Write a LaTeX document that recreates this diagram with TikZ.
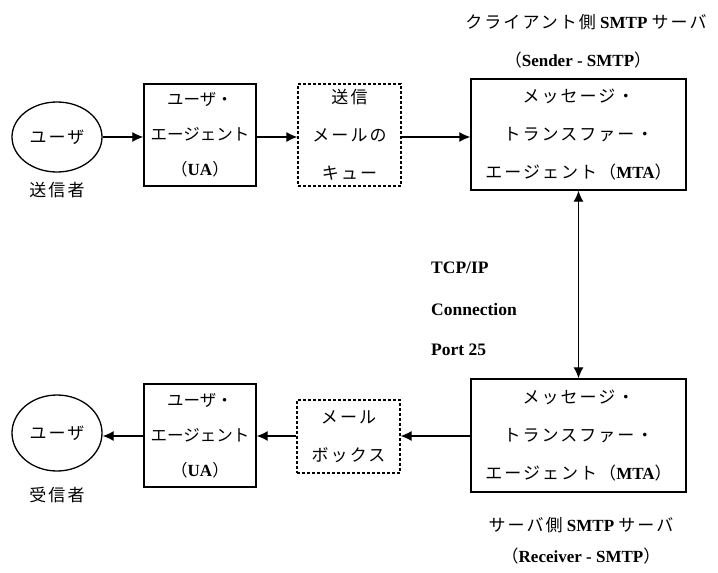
\documentclass[tikz,border=0pt]{standalone}
\usepackage{fontspec}
\setmainfont{Liberation Serif}
\newfontfamily\jp[LetterSpace=12]{Noto Sans CJK JP}
\newfontfamily\jpn{Noto Sans CJK JP}
\usetikzlibrary{arrows.meta,shapes.geometric}
\tikzset{
  jpfont/.style={font=\jp\fontsize{17}{38}\selectfont},
  uafont/.style={font=\jpn\fontsize{16.5}{35}\selectfont},
  user/.style={draw, ellipse, line width=1.3pt, minimum width=90pt, minimum height=70pt, inner sep=0pt, jpfont},
  solidbox/.style={draw, rectangle, line width=1.4pt, align=center, inner sep=0pt, jpfont},
  dashbox/.style={draw, rectangle, line width=1.2pt, dash pattern=on 3pt off 2pt, align=center, inner sep=0pt, jpfont},
  plain/.style={jpfont, inner sep=0pt},
  lat/.style={font=\bfseries\fontsize{17.5}{20}\selectfont, inner sep=0pt},
  arr/.style={line width=1.2pt, -{Latex[length=11pt,width=10pt]}},
  darr/.style={line width=1.2pt, {Latex[length=11pt,width=10pt]}-{Latex[length=11pt,width=10pt]}}
}
\newcommand{\lt}[1]{{\normalfont\bfseries\fontsize{17}{20}\selectfont #1}}
\begin{document}
\begin{tikzpicture}[x=1pt,y=-1pt]
\useasboundingbox (0,0) rectangle (718,573);
% upper row
\node[user] (u1) at (57,137) {ユーザ};
\node[plain] (snd) at (57,190) {送信者};
\node[solidbox, uafont, minimum width=112pt, minimum height=102pt] (ua1) at (200,135) {ユーザ・\\エージェント\\（\lt{UA}）};
\node[dashbox, minimum width=103pt, minimum height=102pt] (q1) at (349.5,135) {送信\\メールの\\キュー};
\node[solidbox, minimum width=215pt, minimum height=111pt] (mta1) at (578.5,134.5) {メッセージ・\\トランスファー・\\エージェント（\lt{MTA}）};
\node[plain] (t1) at (586,22) {クライアント側\lt{ SMTP }サーバ};
\node[plain] (t1b) at (578,60) {（\lt{Sender - SMTP}）};
\draw[arr] (u1.east) -- (u1.east -| ua1.west);
\draw[arr] (u1.east -| ua1.east) -- (u1.east -| q1.west);
\draw[arr] (u1.east -| q1.east) -- (u1.east -| mta1.west);
% lower row
\node[user, minimum height=76pt] (u2) at (57,433) {ユーザ};
\node[plain] (rcv) at (57,495) {受信者};
\node[solidbox, uafont, minimum width=112pt, minimum height=103pt] (ua2) at (200,435.5) {ユーザ・\\エージェント\\（\lt{UA}）};
\node[dashbox, minimum width=103pt, minimum height=73pt] (mb2) at (348.5,436.5) {メール\\ボックス};
\node[solidbox, minimum width=215pt, minimum height=113pt] (mta2) at (578.5,435.5) {メッセージ・\\トランスファー・\\エージェント（\lt{MTA}）};
\node[plain] (t2) at (581,525) {サーバ側\lt{ SMTP }サーバ};
\node[plain] (t2b) at (581,556) {（\lt{Receiver - SMTP}）};
\coordinate (yl) at (0,436);
\draw[arr] (mta2.west |- yl) -- (mb2.east |- yl);
\draw[arr] (mb2.west |- yl) -- (ua2.east |- yl);
\draw[arr] (ua2.west |- yl) -- (u2.east |- yl);
% vertical connection
\draw[darr] (mta1.south) -- (mta2.north);
\node[lat, anchor=west] (tcp) at (431,268) {TCP/IP};
\node[lat, anchor=west] (con) at (431,310) {Connection};
\node[lat, anchor=west] (port) at (431,350) {Port 25};
\end{tikzpicture}
\end{document}
